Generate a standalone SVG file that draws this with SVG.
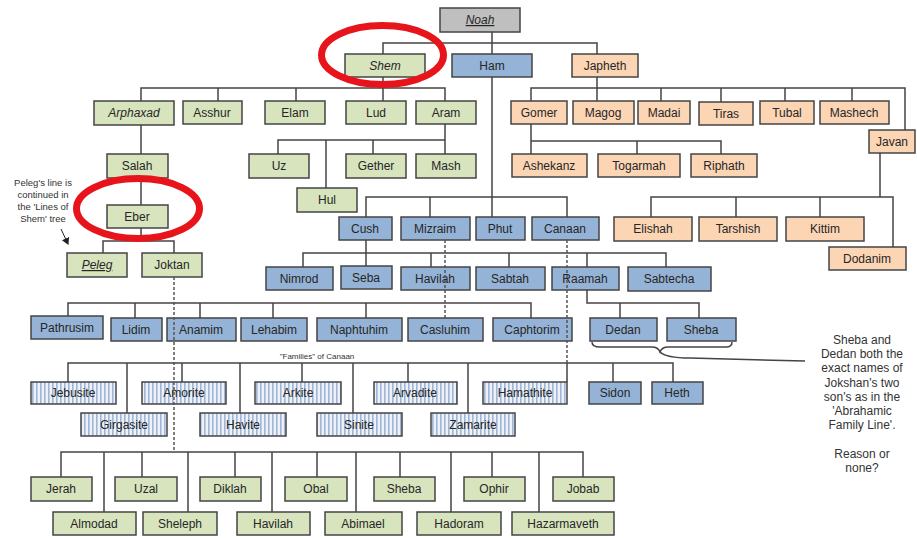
<svg xmlns="http://www.w3.org/2000/svg" width="917" height="538" viewBox="0 0 917 538">
<defs>
<pattern id="hatch" width="4" height="4" patternUnits="userSpaceOnUse"><rect width="4" height="4" fill="#eef2f8"/><rect x="0" width="1.6" height="4" fill="#9fb6d6"/></pattern>
<marker id="arr" markerWidth="8" markerHeight="8" refX="6" refY="4" orient="auto" markerUnits="userSpaceOnUse"><path d="M0,0 L7,4 L0,8 z" fill="#222"/></marker>
</defs>
<style>
#nodes rect{stroke:#444;stroke-width:1.5}
.g{fill:#d7e4bd}.o{fill:#fcd5b5}.b{fill:#95b3d7}.gr{fill:#bfbfbf}.h{fill:url(#hatch)}
text{font-family:"Liberation Sans",Arial,sans-serif;font-size:12px;fill:#262626;text-anchor:middle}
.i{font-style:italic}.u{text-decoration:underline}
.c{fill:none;stroke:#444;stroke-width:1.5}
.d{fill:none;stroke:#555;stroke-width:1.5;stroke-dasharray:3,2}
.note{font-size:9.5px;fill:#333}
.sm{font-size:8px;fill:#333}
.side{font-size:12px;fill:#333}
.ring{fill:none;stroke:#e8141b;stroke-width:7}
</style>
<rect x="0" y="0" width="917" height="538" fill="#fff"/>
<g id="nodes">
<g id="noah"><rect class="gr" x="440" y="8" width="80" height="24"/><text class="i u" x="480" y="24">Noah</text></g>
<g id="shem"><rect class="g" x="345" y="54" width="80" height="23"/><text class="i" x="385" y="70">Shem</text></g>
<g id="ham"><rect class="b" x="452" y="54" width="80" height="23"/><text x="492" y="70">Ham</text></g>
<g id="japheth"><rect class="o" x="572" y="54" width="66" height="23"/><text x="605" y="70">Japheth</text></g>
<g id="arphaxad"><rect class="g" x="94" y="101" width="80" height="24"/><text class="i" x="134" y="117">Arphaxad</text></g>
<g id="asshur"><rect class="g" x="183" y="101" width="59" height="23"/><text x="212" y="117">Asshur</text></g>
<g id="elam"><rect class="g" x="265" y="101" width="60" height="23"/><text x="295" y="117">Elam</text></g>
<g id="lud"><rect class="g" x="346" y="101" width="60" height="23"/><text x="376" y="117">Lud</text></g>
<g id="aram"><rect class="g" x="416" y="101" width="60" height="23"/><text x="446" y="117">Aram</text></g>
<g id="uz"><rect class="g" x="249" y="154" width="60" height="24"/><text x="279" y="170">Uz</text></g>
<g id="gether"><rect class="g" x="346" y="154" width="60" height="24"/><text x="376" y="170">Gether</text></g>
<g id="mash"><rect class="g" x="416" y="154" width="60" height="24"/><text x="446" y="170">Mash</text></g>
<g id="hul"><rect class="g" x="297" y="188" width="60" height="24"/><text x="327" y="204">Hul</text></g>
<g id="salah"><rect class="g" x="107" y="154" width="61" height="24"/><text x="137" y="170">Salah</text></g>
<g id="eber"><rect class="g" x="107" y="205" width="61" height="23"/><text x="137" y="221">Eber</text></g>
<g id="peleg"><rect class="g" x="67" y="253" width="60" height="24"/><text class="i u" x="97" y="269">Peleg</text></g>
<g id="joktan"><rect class="g" x="142" y="253" width="60" height="24"/><text x="172" y="269">Joktan</text></g>
<g id="gomer"><rect class="o" x="511" y="101" width="56" height="23"/><text x="539" y="117">Gomer</text></g>
<g id="magog"><rect class="o" x="573" y="101" width="61" height="23"/><text x="603" y="117">Magog</text></g>
<g id="madai"><rect class="o" x="638" y="101" width="52" height="23"/><text x="664" y="117">Madai</text></g>
<g id="tiras"><rect class="o" x="699" y="102" width="54" height="23"/><text x="726" y="118">Tiras</text></g>
<g id="tubal"><rect class="o" x="760" y="101" width="54" height="23"/><text x="787" y="117">Tubal</text></g>
<g id="mashech"><rect class="o" x="820" y="101" width="69" height="23"/><text x="854" y="117">Mashech</text></g>
<g id="javan"><rect class="o" x="869" y="130" width="46" height="23"/><text x="892" y="146">Javan</text></g>
<g id="ashekanz"><rect class="o" x="512" y="154" width="75" height="23"/><text x="549" y="170">Ashekanz</text></g>
<g id="togarmah"><rect class="o" x="598" y="154" width="82" height="23"/><text x="639" y="170">Togarmah</text></g>
<g id="riphath"><rect class="o" x="691" y="154" width="66" height="23"/><text x="724" y="170">Riphath</text></g>
<g id="elishah"><rect class="o" x="614" y="217" width="78" height="24"/><text x="653" y="233">Elishah</text></g>
<g id="tarshish"><rect class="o" x="699" y="217" width="78" height="24"/><text x="738" y="233">Tarshish</text></g>
<g id="kittim"><rect class="o" x="786" y="217" width="78" height="24"/><text x="825" y="233">Kittim</text></g>
<g id="dodanim"><rect class="o" x="829" y="247" width="77" height="23"/><text x="867" y="263">Dodanim</text></g>
<g id="cush"><rect class="b" x="339" y="217" width="53" height="23"/><text x="365" y="233">Cush</text></g>
<g id="mizraim"><rect class="b" x="401" y="217" width="69" height="23"/><text x="435" y="233">Mizraim</text></g>
<g id="phut"><rect class="b" x="476" y="217" width="49" height="23"/><text x="500" y="233">Phut</text></g>
<g id="canaan"><rect class="b" x="532" y="217" width="67" height="23"/><text x="565" y="233">Canaan</text></g>
<g id="nimrod"><rect class="b" x="266" y="267" width="67" height="23"/><text x="299" y="283">Nimrod</text></g>
<g id="seba"><rect class="b" x="341" y="266" width="51" height="23"/><text x="366" y="282">Seba</text></g>
<g id="havilah-c"><rect class="b" x="401" y="267" width="69" height="23"/><text x="435" y="283">Havilah</text></g>
<g id="sabtah"><rect class="b" x="476" y="267" width="69" height="23"/><text x="510" y="283">Sabtah</text></g>
<g id="raamah"><rect class="b" x="552" y="267" width="67" height="23"/><text x="585" y="283">Raamah</text></g>
<g id="sabtecha"><rect class="b" x="628" y="267" width="83" height="24"/><text x="669" y="283">Sabtecha</text></g>
<g id="dedan"><rect class="b" x="590" y="318" width="67" height="23"/><text x="623" y="334">Dedan</text></g>
<g id="sheba-r"><rect class="b" x="667" y="318" width="69" height="23"/><text x="701" y="334">Sheba</text></g>
<g id="pathrusim"><rect class="b" x="31" y="316" width="72" height="23"/><text x="67" y="332">Pathrusim</text></g>
<g id="lidim"><rect class="b" x="111" y="318" width="51" height="23"/><text x="136" y="334">Lidim</text></g>
<g id="anamim"><rect class="b" x="167" y="318" width="69" height="23"/><text x="201" y="334">Anamim</text></g>
<g id="lehabim"><rect class="b" x="241" y="318" width="66" height="23"/><text x="274" y="334">Lehabim</text></g>
<g id="naphtuhim"><rect class="b" x="317" y="318" width="85" height="23"/><text x="359" y="334">Naphtuhim</text></g>
<g id="casluhim"><rect class="b" x="408" y="318" width="75" height="23"/><text x="445" y="334">Casluhim</text></g>
<g id="caphtorim"><rect class="b" x="493" y="318" width="79" height="23"/><text x="532" y="334">Caphtorim</text></g>
<g id="jebusite"><rect class="h" x="31" y="382" width="85" height="22"/><text x="73" y="397">Jebusite</text></g>
<g id="amorite"><rect class="h" x="142" y="382" width="84" height="22"/><text x="184" y="397">Amorite</text></g>
<g id="arkite"><rect class="h" x="255" y="382" width="86" height="22"/><text x="298" y="397">Arkite</text></g>
<g id="arvadite"><rect class="h" x="374" y="382" width="83" height="22"/><text x="415" y="397">Arvadite</text></g>
<g id="hamathite"><rect class="h" x="483" y="382" width="84" height="22"/><text x="525" y="397">Hamathite</text></g>
<g id="sidon"><rect class="b" x="589" y="382" width="52" height="22"/><text x="615" y="397">Sidon</text></g>
<g id="heth"><rect class="b" x="652" y="382" width="51" height="22"/><text x="677" y="397">Heth</text></g>
<g id="girgasite"><rect class="h" x="81" y="413" width="86" height="23"/><text x="124" y="429">Girgasite</text></g>
<g id="havite"><rect class="h" x="200" y="413" width="86" height="23"/><text x="243" y="429">Havite</text></g>
<g id="sinite"><rect class="h" x="317" y="413" width="85" height="23"/><text x="359" y="429">Sinite</text></g>
<g id="zamarite"><rect class="h" x="431" y="413" width="84" height="23"/><text x="473" y="429">Zamarite</text></g>
<g id="jerah"><rect class="g" x="31" y="477" width="61" height="24"/><text x="61" y="493">Jerah</text></g>
<g id="uzal"><rect class="g" x="115" y="477" width="62" height="24"/><text x="146" y="493">Uzal</text></g>
<g id="diklah"><rect class="g" x="200" y="477" width="61" height="24"/><text x="230" y="493">Diklah</text></g>
<g id="obal"><rect class="g" x="285" y="477" width="62" height="24"/><text x="316" y="493">Obal</text></g>
<g id="sheba-j"><rect class="g" x="374" y="477" width="61" height="24"/><text x="404" y="493">Sheba</text></g>
<g id="ophir"><rect class="g" x="464" y="477" width="61" height="24"/><text x="494" y="493">Ophir</text></g>
<g id="jobab"><rect class="g" x="553" y="477" width="61" height="24"/><text x="583" y="493">Jobab</text></g>
<g id="almodad"><rect class="g" x="53" y="512" width="83" height="23"/><text x="94" y="528">Almodad</text></g>
<g id="sheleph"><rect class="g" x="143" y="512" width="74" height="23"/><text x="180" y="528">Sheleph</text></g>
<g id="havilah-j"><rect class="g" x="237" y="512" width="73" height="23"/><text x="273" y="528">Havilah</text></g>
<g id="abimael"><rect class="g" x="325" y="512" width="77" height="23"/><text x="363" y="528">Abimael</text></g>
<g id="hadoram"><rect class="g" x="417" y="512" width="84" height="23"/><text x="459" y="528">Hadoram</text></g>
<g id="hazarmaveth"><rect class="g" x="512" y="512" width="102" height="23"/><text x="563" y="528">Hazarmaveth</text></g>
</g>
<g id="connectors">
<path class="c" d="M492,32V54M492,77V217M383,54V43H597V54"/>
<path class="c" d="M383,77V101M141,101V88H445V101M218,88V101M296,88V101"/>
<path class="c" d="M445,124V154M278,154V140H445M326,140V188M373,140V154"/>
<path class="c" d="M141,125V154M141,178V205M141,228V241M103,253V241H174V253"/>
<path class="c" d="M597,77V101M531,101V88H905V130M661,88V101M721,88V102M785,88V101M852,88V101"/>
<path class="c" d="M531,124V154M531,141H721V154M637,141V154"/>
<path class="c" d="M880,153V197M651,217V197H893V247M736,197V217M820,197V217"/>
<path class="c" d="M366,217V197H567V217M430,197V217"/>
<path class="c" d="M366,240V266M303,267V253H666V267M431,253V267M509,253V267M587,253V267"/>
<path class="c" d="M587,290V303H699V318M620,303V318"/>
<path class="c" d="M68,316V303H531V318M135,303V318M200,303V318M273,303V318M366,303V318"/>
<path class="c" d="M68,382V363H673V382M182,363V382M302,363V382M408,363V382M567,363V382M613,363V382M127,363V413M240,363V413M353,363V413M468,363V413"/>
<path class="c" d="M61,477V452H583V477M142,452V477M235,452V477M317,452V477M400,452V477M492,452V477M104,452V512M188,452V512M272,452V512M356,452V512M451,452V512M539,452V512"/>
<path class="d" d="M174,277V452M445,240V318M567,240V363"/>
<path class="c" d="M592,342q0,5 8,5h52q6,0 8,5q2,-5 8,-5h58q6,0 6,-5"/>
<path class="c" d="M660,352q6,6 30,6L805,361"/>
<path class="c" d="M61,229L68,244" marker-end="url(#arr)" style="stroke:#222;stroke-width:1"/>
</g>
<g id="annotations">
<text class="note" x="43" y="186">Peleg's line is</text>
<text class="note" x="43" y="198">continued in</text>
<text class="note" x="43" y="210">the 'Lines of</text>
<text class="note" x="43" y="222">Shem' tree</text>
<text class="sm" x="317" y="359">"Families" of Canaan</text>
<text class="side" x="862" y="344">Sheba and</text>
<text class="side" x="862" y="358">Dedan both the</text>
<text class="side" x="862" y="372">exact names of</text>
<text class="side" x="862" y="387">Jokshan's two</text>
<text class="side" x="862" y="401">son's as in the</text>
<text class="side" x="862" y="415">'Abrahamic</text>
<text class="side" x="862" y="429">Family Line'.</text>
<text class="side" x="862" y="458">Reason or</text>
<text class="side" x="862" y="472">none?</text>
<ellipse class="ring" cx="382.5" cy="55" rx="61" ry="29.5"/>
<ellipse class="ring" cx="138" cy="208.5" rx="61.5" ry="30"/>
</g>
</svg>
